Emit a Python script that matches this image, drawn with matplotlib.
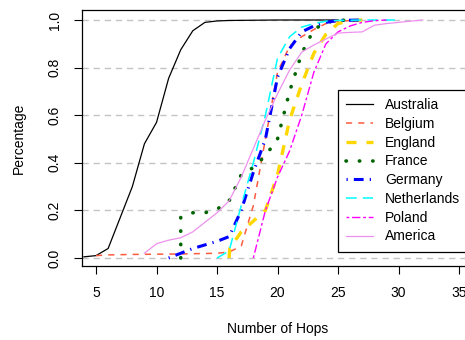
import matplotlib
matplotlib.use("Agg")
import matplotlib.pyplot as plt

plt.rcParams['font.family'] = ['Liberation Sans', 'DejaVu Sans']

countries = ["Australia", "Belgium", "England", "France", "Germany",
             "Netherlands", "Poland", "America"]

aus_x = [4, 5, 6, 7, 8, 9, 10, 11, 12, 13, 14, 15, 16, 18, 20, 25]
aus_y = [0.005, 0.01, 0.04, 0.17, 0.30, 0.48, 0.57, 0.755, 0.875, 0.955, 0.99, 0.996, 0.998, 0.999, 1.0, 1.0]

bel_x = [5, 6, 8, 10, 12, 14, 15, 16, 17, 18, 19, 20, 21, 22, 23, 24, 25, 27]
bel_y = [0.01, 0.013, 0.015, 0.016, 0.017, 0.019, 0.02, 0.025, 0.05, 0.22, 0.5, 0.78, 0.89, 0.93, 0.96, 0.985, 0.995, 1.0]

eng_x = [16, 16.05, 17, 18, 19, 20, 21, 22, 23, 24, 25, 26, 27]
eng_y = [0.0, 0.04, 0.11, 0.155, 0.2, 0.35, 0.58, 0.73, 0.86, 0.94, 0.985, 0.997, 1.0]

fra_x = [12, 12, 13, 14, 15, 16, 17, 18, 19, 20, 21, 22, 23, 24, 25, 26]
fra_y = [0.0, 0.17, 0.19, 0.19, 0.205, 0.24, 0.35, 0.38, 0.43, 0.5, 0.7, 0.86, 0.96, 0.99, 0.998, 1.0]

ger_x = [11, 12, 13, 14, 15, 16, 17, 18, 19, 20, 21, 22, 23, 24, 25, 27]
ger_y = [0.0, 0.02, 0.04, 0.055, 0.07, 0.09, 0.2, 0.36, 0.5, 0.76, 0.88, 0.95, 0.975, 0.99, 0.998, 1.0]

ned_x = [15, 16, 17, 18, 19, 20, 21, 22, 23, 24, 25, 27, 30]
ned_y = [0.0, 0.03, 0.22, 0.40, 0.6, 0.84, 0.93, 0.97, 0.985, 0.995, 0.998, 1.0, 1.0]

pol_x = [18, 19, 20, 21, 22, 23, 24, 25, 26, 27, 28, 29]
pol_y = [0.0, 0.2, 0.34, 0.45, 0.6, 0.78, 0.9, 0.95, 0.975, 0.99, 0.997, 1.0]

ame_x = [9, 10, 11, 12, 13, 14, 15, 16, 17, 18, 19, 20, 21, 22, 23, 24, 25,
         26, 27, 28, 29, 30, 31, 32]
ame_y = [0.02, 0.06, 0.075, 0.085, 0.11, 0.15, 0.19, 0.24, 0.34, 0.46, 0.58, 0.69,
         0.79, 0.865, 0.895, 0.92, 0.945, 0.948, 0.95, 0.978, 0.985, 0.99, 0.995, 1.0]

x_ticks = [5, 10, 15, 20, 25, 30, 35]
y_ticks = [0.0, 0.2, 0.4, 0.6, 0.8, 1.0]
y_ticklabels = ["0.0", "0.2", "0.4", "0.6", "0.8", "1.0"]

W, H = 465, 340
fig = plt.figure(figsize=(W / 100, H / 100), dpi=100)
L, R, T, B = 82, 475, 10, 266
ax = fig.add_axes([L / W, 1 - B / H, (R - L) / W, (B - T) / H])
ax.set_xlim(3.84, 36.32)
ax.set_ylim(-0.0336, 1.042)

for yv in y_ticks:
    ax.axhline(yv, color="#C4C4C4", lw=1.0, dashes=(4.5, 3.5), zorder=1)

styles = [
    dict(color="black", lw=0.9, linestyle="-"),
    dict(color="#FF5B3F", lw=1.1, dashes=(4, 4)),
    dict(color="#FFD700", lw=2.4, dashes=(3, 3)),
    dict(color="#006400", lw=2.6, dashes=(0.1, 3.6), dash_capstyle="round"),
    dict(color="#0000FF", lw=2.2, dashes=(0.4, 2, 3.2, 2)),
    dict(color="#00FFFF", lw=1.1, dashes=(7, 4)),
    dict(color="#FF00FF", lw=1.0, dashes=(2, 2, 6, 2)),
    dict(color="#EE90EE", lw=0.9, linestyle="-"),
]
series = [(aus_x, aus_y), (bel_x, bel_y), (eng_x, eng_y), (fra_x, fra_y),
          (ger_x, ger_y), (ned_x, ned_y), (pol_x, pol_y), (ame_x, ame_y)]

handles = []
for name, (xs, ys), st in zip(countries, series, styles):
    h, = ax.plot(xs, ys, label=name, zorder=3, **st)
    handles.append(h)

ax.set_xticks(x_ticks)
ax.set_xticklabels([str(v) for v in x_ticks])
ax.set_yticks(y_ticks)
ax.set_yticklabels(y_ticklabels, rotation=90, va="center")
ax.tick_params(axis="both", direction="out", length=5.5, width=0.8,
               labelsize=10, color="black")
ax.tick_params(axis="x", pad=9)
ax.tick_params(axis="y", pad=9)
for sp in ax.spines.values():
    sp.set_linewidth(0.9)
    sp.set_color("black")

fig.text(278 / W, 1 - 329 / H, "Number of Hops", ha="center", va="center", fontsize=10)
fig.text(19 / W, 1 - 138 / H, "Percentage", ha="center", va="center",
         rotation=90, fontsize=10)

leg = fig.legend(handles=handles, labels=countries, loc="upper left",
                 bbox_to_anchor=(338 / W, 1 - 90 / H), fontsize=10,
                 frameon=True, fancybox=False, edgecolor="black",
                 handlelength=1.9, handletextpad=0.9, labelspacing=0.34,
                 borderpad=0.6, borderaxespad=0)
leg.get_frame().set_linewidth(0.9)
leg.get_frame().set_alpha(1)

fig.savefig("out.png", dpi=100)
